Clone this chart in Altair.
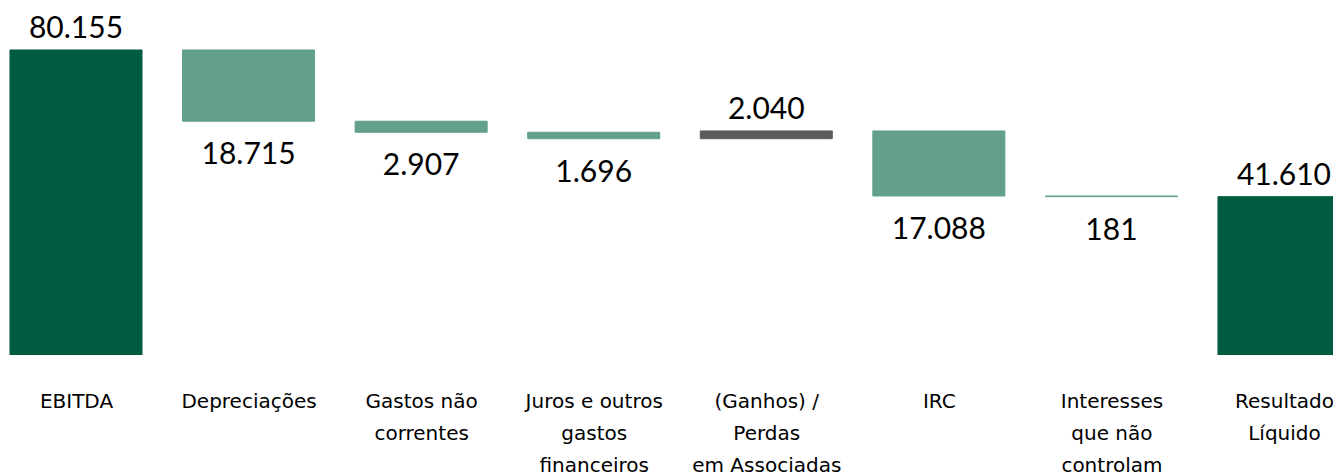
import json
import altair as alt
import pandas as pd

categories = ["EBITDA", "Depreciações", "Gastos não|correntes", "Juros e outros|gastos|financeiros",
              "(Ganhos) /|Perdas|em Associadas", "IRC", "Interesses|que não|controlam", "Resultado|Líquido"]
values = [80155, -18715, -2907, -1696, 2040, -17088, -181, 41610]
kinds = ["total", "neg", "neg", "neg", "pos", "neg", "neg", "total"]

rows = []
running = 0
for i, (c, v, k) in enumerate(zip(categories, values, kinds)):
    if k == "total":
        start, end = 0, v
        running = v
    else:
        start = running
        end = running + v
        running = end
    rows.append({"idx": i, "cat": c, "value": v, "kind": k, "start": start, "end": end,
                 "label": f"{abs(v):,}".replace(",", "."),
                 "up": v > 0})
df = pd.DataFrame(rows)

HALF = 0.3825  # half bar width, in category units
xscale = alt.Scale(domain=[-0.394, 7.284], nice=False, zero=False)
label_expr = f"split({json.dumps(categories, ensure_ascii=False)}[datum.value], '|')"

x_axis = alt.Axis(domain=False, ticks=False, grid=False, labelAngle=0, labelFont="DejaVu Sans",
                  labelFontSize=20, labelColor="#000000", labelPadding=36,
                  labelLineHeight=32, labelExpr=label_expr, values=list(range(len(categories))),
                  labelOverlap=False, labelFlush=False, labelBound=False)
yscale = alt.Scale(domain=[0, 91190], nice=False, zero=True)

base = alt.Chart(df).transform_calculate(lo=f"datum.idx - {HALF}", hi=f"datum.idx + {HALF}")

colors = alt.Scale(domain=["total", "neg", "pos"], range=["#015B40", "#629F8D", "#5B5B5D"])

bars = base.mark_bar(strokeWidth=1, clip=True).encode(
    x=alt.X("lo:Q", scale=xscale, axis=x_axis, title=None),
    x2="hi:Q",
    y=alt.Y("start:Q", scale=yscale, axis=None, title=None),
    y2="end:Q",
    color=alt.Color("kind:N", legend=None, scale=colors),
    stroke=alt.Stroke("kind:N", legend=None, scale=colors),
)

top_labels = base.transform_filter("datum.up").mark_text(
    font="Lato", fontSize=30, baseline="alphabetic", dy=-12, color="#000000"
).encode(x=alt.X("idx:Q", scale=xscale), y=alt.Y("end:Q", scale=yscale), text="label:N")

bottom_labels = base.transform_filter("!datum.up").mark_text(
    font="Lato", fontSize=30, baseline="alphabetic", dy=43, color="#000000"
).encode(x=alt.X("idx:Q", scale=xscale), y=alt.Y("end:Q", scale=yscale), text="label:N")

chart = alt.layer(bars, top_labels, bottom_labels).properties(
    width=1325, height=347,
    autosize=alt.AutoSizeParams(type="none"),
    padding={"left": 0, "top": 0, "right": 0, "bottom": 120},
).configure_view(stroke=None)

chart.save("out.html", embed_options={"renderer": "svg", "actions": False})
